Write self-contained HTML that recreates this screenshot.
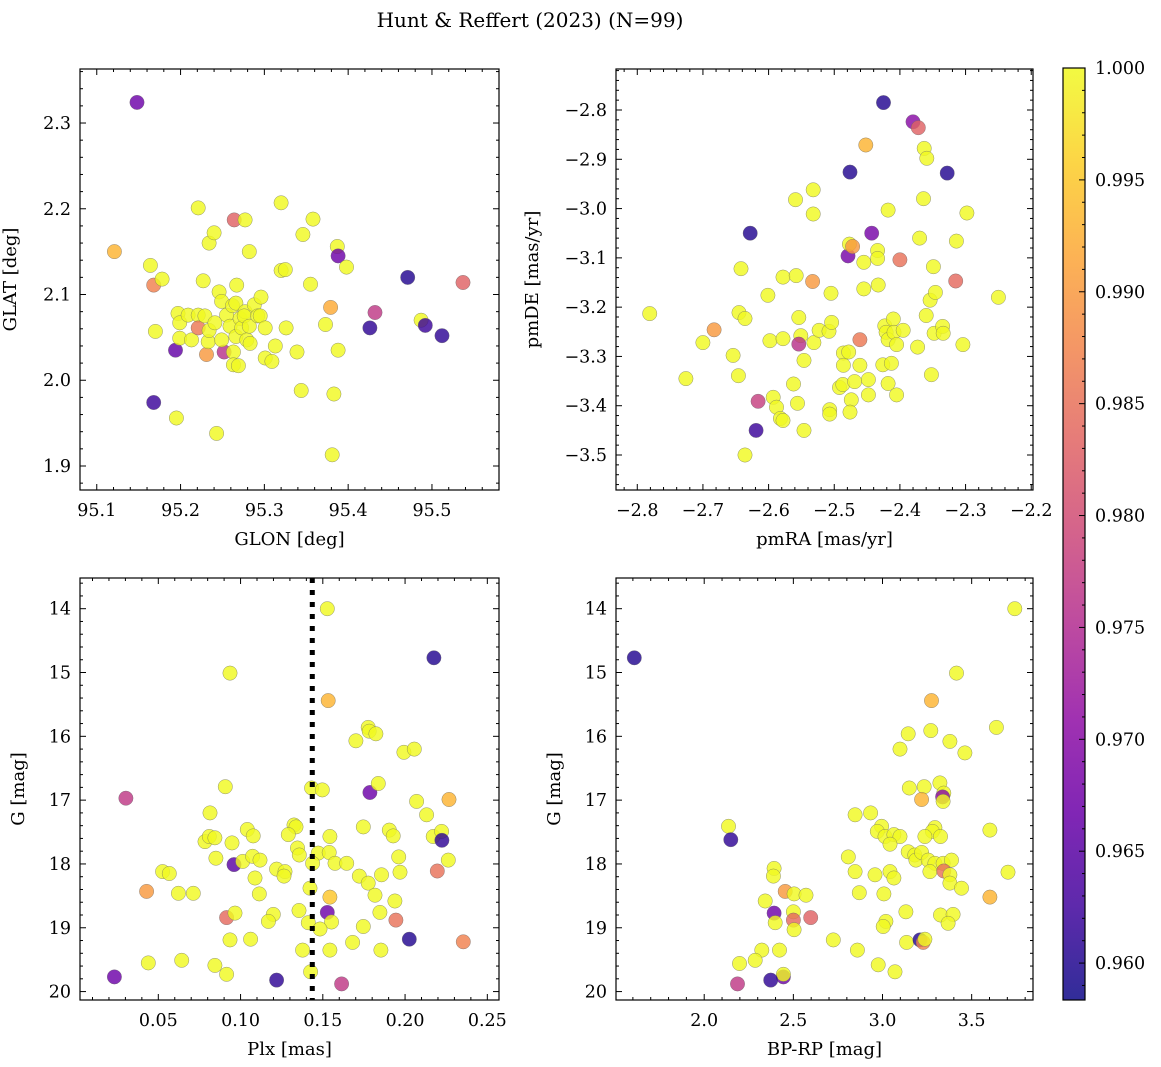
<!DOCTYPE html>
<html><head><meta charset="utf-8"><title>Hunt & Reffert (2023)</title>
<style>
html,body{margin:0;padding:0;background:#fff;}
svg{display:block;font-family:"DejaVu Serif","Liberation Serif",serif;}
</style></head>
<body>
<svg id="fig" width="1161" height="1067" viewBox="0 0 1161 1067" xmlns="http://www.w3.org/2000/svg">
<text x="530" y="27" font-size="20" text-anchor="middle">Hunt &amp; Reffert (2023) (N=99)</text>
</svg>
<script>
// ---- Panel 1: GLON / GLAT ----
const p1Glon=[95.148,95.121,95.164,95.168,95.178,95.170,95.194,95.168,95.195,95.197,95.199,95.199,95.209,95.213,95.221,95.221,95.221,95.227,95.229,95.234,95.240,95.231,95.233,95.234,95.243,95.241,95.246,95.249,95.252,95.249,95.255,95.259,95.262,95.264,95.263,95.263,95.267,95.266,95.266,95.269,95.271,95.273,95.277,95.277,95.276,95.279,95.282,95.282,95.283,95.288,95.292,95.296,95.295,95.301,95.301,95.309,95.313,95.320,95.320,95.325,95.326,95.339,95.344,95.346,95.358,95.355,95.373,95.379,95.381,95.383,95.388,95.387,95.388,95.398,95.426,95.432,95.471,95.487,95.492,95.512,95.537];
const p1Glat=[2.324,2.150,2.134,2.111,2.118,2.057,2.035,1.974,1.956,2.078,2.067,2.049,2.076,2.047,2.201,2.076,2.061,2.116,2.075,2.160,2.172,2.030,2.045,2.058,1.938,2.067,2.103,2.092,2.033,2.047,2.076,2.063,2.087,2.187,2.033,2.018,2.111,2.090,2.051,2.017,2.072,2.061,2.187,2.080,2.075,2.047,2.150,2.063,2.043,2.088,2.075,2.097,2.075,2.061,2.026,2.022,2.040,2.207,2.128,2.129,2.061,2.033,1.988,2.170,2.188,2.112,2.065,2.085,1.913,1.984,2.035,2.156,2.145,2.132,2.061,2.079,2.120,2.070,2.064,2.052,2.114];
const p1Prob=[0.967,0.993,1,0.987,1,1,0.966,0.962,1,1,1,1,1,1,1,1,0.986,1,1,1,1,0.990,1,1,1,1,1,1,0.976,1,1,1,1,0.983,1,1,1,1,1,1,1,1,1,1,1,1,1,1,1,1,1,1,1,1,1,1,1,1,1,1,1,1,1,1,1,1,1,0.992,1,1,1,1,0.967,1,0.961,0.977,0.960,1,0.962,0.961,0.983];
const p1XTicks=[95.1,95.2,95.3,95.4,95.5];
const p1YTicks=[1.9,2.0,2.1,2.2,2.3];
// ---- Panel 2: pmRA / pmDE ----
const p2PmRA=[-2.781,-2.726,-2.700,-2.683,-2.654,-2.646,-2.642,-2.645,-2.636,-2.636,-2.628,-2.616,-2.619,-2.601,-2.598,-2.593,-2.588,-2.582,-2.578,-2.578,-2.578,-2.559,-2.558,-2.562,-2.556,-2.554,-2.551,-2.554,-2.546,-2.546,-2.532,-2.532,-2.533,-2.531,-2.523,-2.508,-2.505,-2.504,-2.507,-2.507,-2.492,-2.487,-2.486,-2.486,-2.478,-2.474,-2.476,-2.479,-2.477,-2.472,-2.476,-2.461,-2.469,-2.461,-2.455,-2.455,-2.452,-2.448,-2.448,-2.443,-2.434,-2.434,-2.433,-2.426,-2.425,-2.423,-2.421,-2.418,-2.418,-2.418,-2.413,-2.410,-2.409,-2.405,-2.405,-2.400,-2.395,-2.380,-2.372,-2.363,-2.359,-2.364,-2.370,-2.373,-2.360,-2.354,-2.346,-2.349,-2.348,-2.352,-2.335,-2.334,-2.328,-2.315,-2.314,-2.304,-2.298,-2.250];
const p2PmDE=[-3.213,-3.345,-3.272,-3.246,-3.298,-3.339,-3.122,-3.211,-3.223,-3.500,-3.050,-3.391,-3.450,-3.176,-3.268,-3.383,-3.403,-3.426,-3.430,-3.139,-3.264,-2.982,-3.136,-3.356,-3.395,-3.221,-3.258,-3.275,-3.308,-3.450,-2.962,-3.011,-3.148,-3.272,-3.247,-3.249,-3.172,-3.231,-3.408,-3.417,-3.363,-3.357,-3.293,-3.318,-3.291,-3.388,-3.413,-3.096,-3.072,-3.077,-2.926,-3.318,-3.351,-3.266,-3.109,-3.163,-2.871,-3.378,-3.347,-3.050,-3.085,-3.101,-3.155,-3.317,-2.785,-3.238,-3.251,-3.266,-3.003,-3.355,-3.314,-3.224,-3.251,-3.276,-3.378,-3.104,-3.247,-2.824,-2.836,-2.878,-2.898,-2.980,-3.060,-3.281,-3.217,-3.186,-3.170,-3.118,-3.253,-3.337,-3.239,-3.253,-2.928,-3.147,-3.066,-3.276,-3.009,-3.180];
const p2Prob=[1,1,1,0.990,1,1,1,1,1,1,0.960,0.978,0.962,1,1,1,1,1,1,1,1,1,1,1,1,1,1,0.976,1,1,1,1,0.990,1,1,1,1,1,1,1,1,1,1,1,1,1,1,0.968,1,0.990,0.960,1,1,0.986,1,1,0.993,1,1,0.968,1,1,1,1,0.960,1,1,1,1,1,1,1,1,1,1,0.985,1,0.970,0.983,1,1,1,1,1,1,1,1,1,1,1,1,1,0.960,0.984,1,1,1,1];
const p2XTicks=[-2.8,-2.7,-2.6,-2.5,-2.4,-2.3,-2.2];
const p2YTicks=[-3.5,-3.4,-3.3,-3.2,-3.1,-3.0,-2.9,-2.8];
// ---- Panel 3: Plx / G ----
const p3Plx=[0.1527,0.2175,0.0936,0.1533,0.1776,0.1782,0.1823,0.1701,0.1993,0.2056,0.0907,0.1432,0.1497,0.1786,0.1837,0.0303,0.2070,0.2267,0.0814,0.2131,0.1325,0.1337,0.1746,0.1904,0.1041,0.1077,0.1928,0.1543,0.0784,0.0810,0.0844,0.0948,0.1290,0.2171,0.2222,0.2224,0.1346,0.1357,0.1472,0.1539,0.0850,0.0960,0.1013,0.1073,0.1118,0.1438,0.1574,0.1645,0.1961,0.2263,0.0526,0.0567,0.1219,0.1270,0.1264,0.1088,0.1722,0.1776,0.1857,0.1969,0.2196,0.0429,0.0622,0.0713,0.1114,0.1422,0.1543,0.1817,0.1938,0.0915,0.0966,0.1199,0.1169,0.1355,0.1412,0.1527,0.1553,0.1847,0.1944,0.1483,0.1746,0.0936,0.1061,0.1377,0.1543,0.1681,0.1853,0.2026,0.2354,0.0439,0.0642,0.0844,0.0915,0.1426,0.0233,0.1219,0.1614];
const p3G=[14.00,14.77,15.01,15.44,15.86,15.92,15.96,16.07,16.25,16.20,16.79,16.81,16.84,16.88,16.74,16.97,17.02,16.99,17.20,17.23,17.39,17.42,17.42,17.47,17.46,17.56,17.56,17.57,17.65,17.57,17.59,17.67,17.54,17.57,17.49,17.63,17.75,17.86,17.83,17.82,17.91,18.01,17.96,17.88,17.94,17.99,17.99,17.99,17.89,17.94,18.12,18.15,18.08,18.12,18.19,18.22,18.19,18.30,18.17,18.13,18.11,18.43,18.46,18.46,18.47,18.38,18.52,18.49,18.58,18.84,18.77,18.79,18.90,18.73,18.92,18.76,18.91,18.76,18.88,19.02,18.98,19.19,19.18,19.35,19.35,19.23,19.35,19.18,19.22,19.55,19.51,19.59,19.73,19.69,19.77,19.82,19.88];
const p3Prob=[1,0.960,1,0.993,1,1,1,1,1,1,1,1,1,0.967,1,0.977,1,0.993,1,1,1,1,1,1,1,1,1,1,1,1,1,1,1,1,1,0.961,1,1,1,1,1,0.965,1,1,1,1,1,1,1,1,1,1,1,1,1,1,1,1,1,1,0.985,0.990,1,1,1,1,0.995,1,1,0.984,1,1,1,1,1,0.967,1,1,0.985,1,1,1,1,1,1,1,1,0.960,0.987,1,1,1,1,1,0.967,0.961,0.977];
const p3XTicks=[0.05,0.10,0.15,0.20,0.25];
const p3YTicks=[14,15,16,17,18,19,20];
const p3PlxCut=[0.1436];
// ---- Panel 4: BP-RP / G ----
const p4Color=[1.608,3.742,3.415,3.275,3.639,3.144,3.271,3.378,3.462,3.098,3.150,3.234,3.322,3.344,3.337,3.219,3.340,2.846,2.933,2.995,2.971,3.014,3.064,3.098,3.042,3.294,3.280,3.325,3.238,3.602,2.136,2.149,2.808,3.144,3.181,3.187,3.219,3.256,3.294,3.340,3.387,3.266,3.344,3.378,3.378,3.443,3.704,2.846,2.958,3.042,3.064,2.870,3.008,3.602,2.392,2.388,2.454,2.504,2.571,2.342,2.392,2.398,2.500,2.500,2.597,2.504,3.131,3.325,3.396,3.368,3.019,3.004,2.724,3.135,3.210,3.228,3.238,2.323,2.422,2.859,2.286,2.198,2.976,3.070,2.444,2.444,2.373,2.187];
const p4G=[14.77,14.00,15.01,15.44,15.86,15.96,15.91,16.08,16.26,16.20,16.81,16.79,16.73,16.89,16.95,16.99,17.02,17.23,17.20,17.41,17.49,17.57,17.54,17.57,17.69,17.43,17.49,17.57,17.57,17.47,17.41,17.62,17.89,17.81,17.86,17.94,17.82,17.94,17.99,17.99,17.94,18.12,18.11,18.17,18.30,18.38,18.13,18.12,18.17,18.12,18.22,18.45,18.47,18.52,18.07,18.19,18.43,18.47,18.49,18.58,18.77,18.92,18.75,18.88,18.84,19.03,18.75,18.80,18.79,18.93,18.90,18.98,19.19,19.23,19.19,19.23,19.18,19.35,19.35,19.35,19.51,19.56,19.58,19.69,19.77,19.73,19.82,19.88];
const p4Prob=[0.960,1,1,0.993,1,1,1,1,1,1,1,1,1,1,0.970,0.993,1,1,1,1,1,1,1,1,1,1,1,1,1,1,1,0.961,1,1,1,1,1,1,1,1,1,1,0.985,1,1,1,1,1,1,1,1,1,1,0.993,1,1,0.990,1,1,1,0.967,1,1,0.984,0.983,1,1,1,1,1,1,1,1,1,0.960,0.987,1,1,1,1,1,1,1,1,0.967,1,0.961,0.977];
const p4XTicks=[2.0,2.5,3.0,3.5];
const p4YTicks=[14,15,16,17,18,19,20];
// ---- Colorbar ----
const cbTicks=[0.960,0.965,0.970,0.975,0.980,0.985,0.990,0.995,1.000];
const cbMin=0.95835, cbMax=1.0;

const NS='http://www.w3.org/2000/svg';
const svg=document.getElementById('fig');
function mk(tag,attrs,parent){const e=document.createElementNS(NS,tag);for(const k in attrs)e.setAttribute(k,attrs[k]);(parent||svg).appendChild(e);return e;}
const plasma=[[13,8,135],[65,4,157],[106,0,168],[143,13,164],[177,42,144],[204,71,120],[225,100,98],[242,132,75],[252,166,54],[252,206,37],[240,249,33]];
function cmap(v){let t=(v-cbMin)/(cbMax-cbMin);t=Math.max(0,Math.min(1,t));const f=t*10,i=Math.min(9,Math.floor(f)),r=f-i;const a=plasma[i],b=plasma[i+1];return 'rgb('+a.map((c,j)=>Math.round(c+(b[j]-c)*r)).join(',')+')';}

function panel(o){
  const g=mk('g',{});
  
  
  const sx=v=>o.L+(v-o.x0)/(o.x1-o.x0)*(o.R-o.L);
  const sy=o.inv?(v=>o.T+(v-o.y0)/(o.y1-o.y0)*(o.B-o.T)):(v=>o.B-(v-o.y0)/(o.y1-o.y0)*(o.B-o.T));
  const pg=mk('g',{},g);
  
  
  for(let i=0;i<o.xs.length;i++){
    const c=mk('circle',{cx:sx(o.xs[i]).toFixed(1),cy:sy(o.ys[i]).toFixed(1),r:7.2,fill:cmap(o.ps[i]),'fill-opacity':0.82,stroke:'#666','stroke-width':0.5,'stroke-opacity':0.7},pg);
    
    
  }
  if(o.vline){o.vline.forEach(v=>{const l=mk('line',{x1:sx(v),x2:sx(v),y1:o.T,y2:o.B,stroke:'#000','stroke-width':5,'stroke-dasharray':'5,7'},g);
    
    });}
  const tg=mk('g',{stroke:'#000','stroke-width':1},g);
  const eps=1e-9;
  for(let k=Math.ceil((o.x0)/o.xmin-eps);k*o.xmin<=o.x1+eps;k++){const v=k*o.xmin,x=sx(v);
    const major=o.xt.some(t=>Math.abs(t-v)<o.xmin/10);const len=major?6:3;
    mk('line',{x1:x,x2:x,y1:o.B,y2:o.B-len},tg);mk('line',{x1:x,x2:x,y1:o.T,y2:o.T+len},tg);}
  for(let k=Math.ceil((o.y0)/o.ymin-eps);k*o.ymin<=o.y1+eps;k++){const v=k*o.ymin,y=sy(v);
    const major=o.yt.some(t=>Math.abs(t-v)<o.ymin/10);const len=major?6:3;
    mk('line',{x1:o.L,x2:o.L+len,y1:y,y2:y},tg);mk('line',{x1:o.R,x2:o.R-len,y1:y,y2:y},tg);}
  o.xt.forEach(t=>{const tx=mk('text',{x:sx(t),y:o.B+26,'font-size':17.5,'text-anchor':'middle'},g);tx.textContent=o.xf(t).replace('-','\u2212');
    });
  o.yt.forEach(t=>{const tx=mk('text',{x:o.L-9,y:sy(t)+6,'font-size':17.5,'text-anchor':'end'},g);tx.textContent=o.yf(t).replace('-','\u2212');
    });
  mk('rect',{x:o.L,y:o.T,width:o.R-o.L,height:o.B-o.T,fill:'none',stroke:'#000','stroke-width':1.2},g);
  const xl=mk('text',{x:(o.L+o.R)/2,y:o.B+55,'font-size':18,'text-anchor':'middle'},g);xl.textContent=o.xlab;
  
  const yx=o.L-o.ylOff,yy=(o.T+o.B)/2;
  const yl=mk('text',{x:yx,y:yy,'font-size':18,'text-anchor':'middle',transform:'rotate(-90 '+yx+' '+yy+')'},g);yl.textContent=o.ylab;
  
}
const f1=v=>v.toFixed(1), f2=v=>v.toFixed(2), f0=v=>v.toFixed(0);
panel({name:'glon-glat-panel',L:80,R:499,T:69,B:490,x0:95.080,x1:95.580,y0:1.872,y1:2.363,xs:p1Glon,ys:p1Glat,ps:p1Prob,xt:p1XTicks,yt:p1YTicks,xmin:0.02,ymin:0.02,xf:f1,yf:f1,xlab:'GLON [deg]',ylab:'GLAT [deg]',ylOff:64});
panel({name:'pm-panel',L:616,R:1033,T:69,B:490,x0:-2.8324,x1:-2.1973,y0:-3.571,y1:-2.7168,xs:p2PmRA,ys:p2PmDE,ps:p2Prob,xt:p2XTicks,yt:p2YTicks,xmin:0.02,ymin:0.02,xf:f1,yf:f1,xlab:'pmRA [mas/yr]',ylab:'pmDE [mas/yr]',ylOff:78});
panel({name:'plx-g-panel',L:80,R:499,T:578,B:1000,x0:0.0024,x1:0.2571,y0:13.519,y1:20.132,inv:true,xs:p3Plx,ys:p3G,ps:p3Prob,xt:p3XTicks,yt:p3YTicks,xmin:0.01,ymin:0.2,xf:f2,yf:f0,xlab:'Plx [mas]',ylab:'G [mag]',ylOff:56,vline:p3PlxCut});
panel({name:'cmd-panel',L:616,R:1033,T:578,B:1000,x0:1.5053,x1:3.844,y0:13.519,y1:20.132,inv:true,xs:p4Color,ys:p4G,ps:p4Prob,xt:p4XTicks,yt:p4YTicks,xmin:0.1,ymin:0.2,xf:f1,yf:f0,xlab:'BP-RP [mag]',ylab:'G [mag]',ylOff:56});

(function(){
  const L=1063,R=1085,T=68,B=1000;
  const g=mk('g',{});
  
  
  const defs=mk('defs',{},g);
  const lg=mk('linearGradient',{id:'cbg',x1:0,y1:1,x2:0,y2:0},defs);
  for(let i=0;i<=20;i++){const t=i/20;mk('stop',{offset:t,'stop-color':cmap(cbMin+t*(cbMax-cbMin)),'stop-opacity':0.85},lg);}
  mk('rect',{x:L,y:T,width:R-L,height:B-T,fill:'url(#cbg)'},g);
  const sy=v=>B-(v-cbMin)/(cbMax-cbMin)*(B-T);
  for(let k=Math.ceil(cbMin/0.001-1e-9);k*0.001<=cbMax+1e-9;k++){const v=k*0.001,y=sy(v);const major=(k%5===0);
    mk('line',{x1:R,x2:R-(major?6:3),y1:y,y2:y,stroke:'#000','stroke-width':1},g);}
  cbTicks.forEach(t=>{const tx=mk('text',{x:R+10,y:sy(t)+6,'font-size':17.5},g);tx.textContent=t.toFixed(3);
    });
  mk('rect',{x:L,y:T,width:R-L,height:B-T,fill:'none',stroke:'#000','stroke-width':1.2},g);
})();
</script>
</body></html>
